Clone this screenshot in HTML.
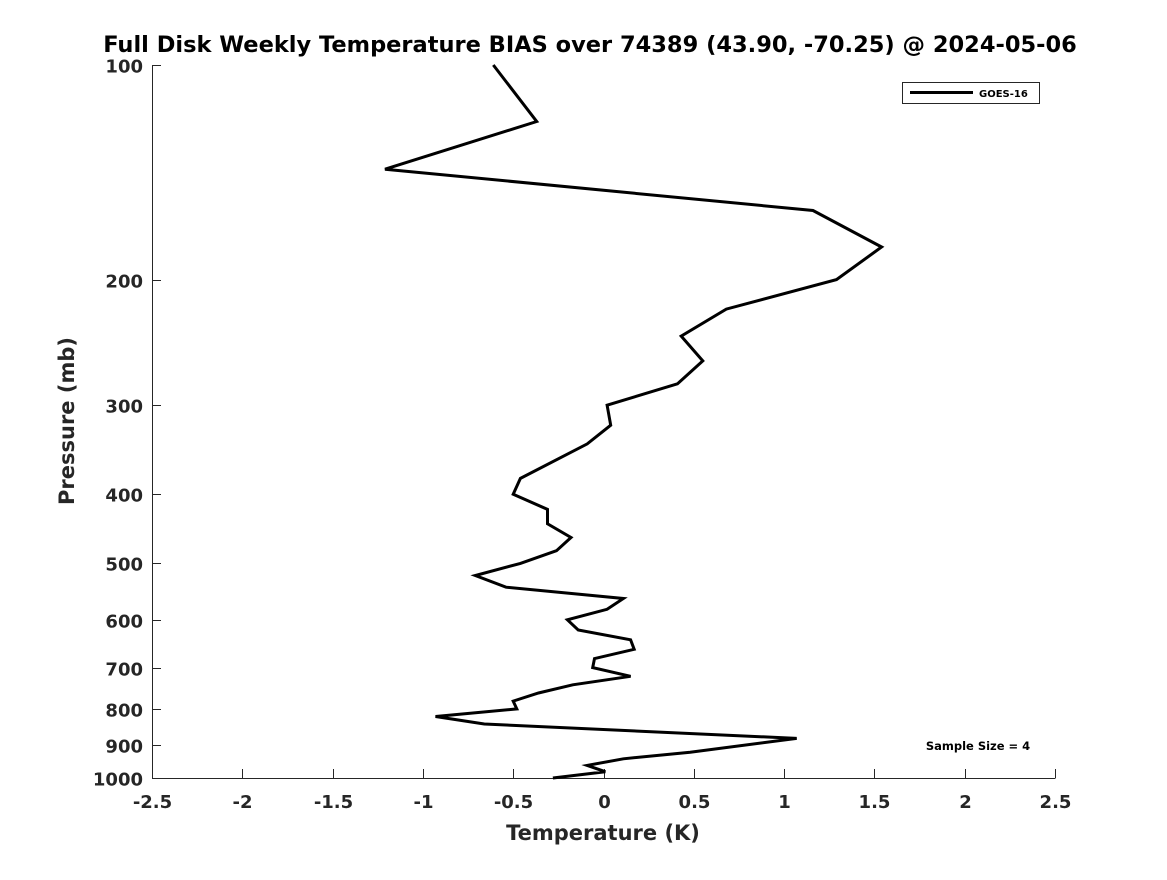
<!DOCTYPE html>
<html><head><meta charset="utf-8"><style>
body{margin:0;background:#fff;}
svg text{font-family:"DejaVu Sans","Liberation Sans",sans-serif;font-weight:bold;}
</style></head><body>
<svg width="1167" height="875" xmlns="http://www.w3.org/2000/svg">
<g id="axes"></g>
<text x="590" y="52" text-anchor="middle" font-size="22.5" fill="#000">Full Disk Weekly Temperature BIAS over 74389 (43.90, -70.25) @ 2024-05-06</text>
<text x="603" y="840" text-anchor="middle" font-size="21" fill="#262626">Temperature (K)</text>
<text transform="translate(74,421) rotate(-90)" text-anchor="middle" font-size="21" fill="#262626">Pressure (mb)</text>
<g>
<rect x="902.5" y="82.5" width="137" height="21" fill="#fff" stroke="#262626" stroke-width="1"/>
<line x1="910" y1="92.5" x2="973" y2="92.5" stroke="#000" stroke-width="3"/>
<text x="979" y="97" font-size="10" fill="#000">GOES-16</text>
</g>
<text x="978" y="750" text-anchor="middle" font-size="11.5" fill="#000">Sample Size = 4</text>
<path id="line" fill="none" stroke="#000" stroke-width="3" stroke-linejoin="miter"/>
</svg>
<script>
const pressures=[100,120,140,160,180,200,220,240,260,280,300,320,340,380,400,420,440,460,480,500,520,540,560,580,600,620,640,660,680,700,720,740,760,780,800,820,840,880,920,940,960,980,1000];
const temps=[-0.61,-0.37,-1.21,1.16,1.54,1.29,0.68,0.43,0.55,0.41,0.02,0.04,-0.09,-0.46,-0.5,-0.31,-0.31,-0.18,-0.26,-0.46,-0.71,-0.54,0.11,0.02,-0.2,-0.14,0.15,0.17,-0.05,-0.06,0.15,-0.17,-0.36,-0.5,-0.48,-0.93,-0.66,1.07,0.48,0.11,-0.09,0.01,-0.28];
const xTicks=[-2.5,-2,-1.5,-1,-0.5,0,0.5,1,1.5,2,2.5];
const xTickLabels=["-2.5","-2","-1.5","-1","-0.5","0","0.5","1","1.5","2","2.5"];
const yTicks=[100,200,300,400,500,600,700,800,900,1000];
const yTickLabels=["100","200","300","400","500","600","700","800","900","1000"];
const X0=152,X1=1055,Y0=65,Y1=778;
function xs(t){return X0+(t+2.5)/5*(X1-X0);}
function ys(p){return Y0+Math.log10(p/100)*(Y1-Y0);}
const NS="http://www.w3.org/2000/svg";
const ax=document.getElementById('axes');
function mk(tag,attrs){const e=document.createElementNS(NS,tag);for(const k in attrs)e.setAttribute(k,attrs[k]);ax.appendChild(e);return e;}
let e=mk('line',{x1:X0+.5,y1:Y0,x2:X0+.5,y2:Y1+.5,stroke:'#262626','stroke-width':1});


e=mk('line',{x1:X0,y1:Y1+.5,x2:X1+.5,y2:Y1+.5,stroke:'#262626','stroke-width':1});


xTicks.forEach((t,i)=>{const x=Math.round(xs(t))+.5;
let l=mk('line',{x1:x,y1:Y1,x2:x,y2:Y1-9,stroke:'#262626'});


let tx=mk('text',{x:x,y:808,'text-anchor':'middle','font-size':18,fill:'#262626'});tx.textContent=xTickLabels[i];

});
yTicks.forEach((p,i)=>{const y=Math.round(ys(p))+.5;
let l=mk('line',{x1:X0,y1:y,x2:X0+9,y2:y,stroke:'#262626'});


let tx=mk('text',{x:143,y:y+7,'text-anchor':'end','font-size':18,fill:'#262626'});tx.textContent=yTickLabels[i];

});
document.getElementById('line').setAttribute('d',temps.map((t,i)=>(i?'L':'M')+xs(t).toFixed(1)+','+ys(pressures[i]).toFixed(1)).join(' '));
</script>
</body></html>
